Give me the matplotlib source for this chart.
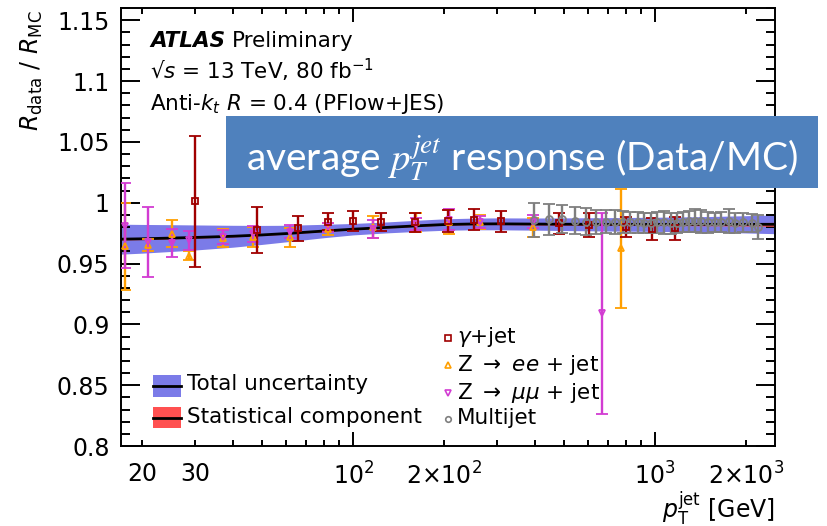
import numpy as np
import matplotlib.pyplot as plt
from matplotlib.patches import Rectangle
from matplotlib.ticker import FixedLocator, FuncFormatter

plt.rcParams['font.family'] = 'DejaVu Sans'
plt.rcParams['mathtext.fontset'] = 'dejavusans'

# combined in-situ correction: central value, total and stat-only half widths
band_pt = [17, 20, 25, 30, 40, 50, 60, 80, 100, 130, 170, 200, 250, 300,
           400, 500, 700, 1000, 1500, 2000, 2500]
band_central = [0.9700, 0.9703, 0.9709, 0.9714, 0.9724, 0.9735, 0.9746, 0.9767,
                0.9782, 0.9797, 0.9812, 0.9820, 0.9825, 0.9826, 0.9824, 0.9823,
                0.9822, 0.9822, 0.9822, 0.9822, 0.9822]
band_total = [0.0123, 0.0118, 0.0110, 0.0103, 0.0090, 0.0078, 0.0068, 0.0055,
              0.0047, 0.0045, 0.0046, 0.0047, 0.0048, 0.0049, 0.0050, 0.0052,
              0.0055, 0.0058, 0.0064, 0.0071, 0.0077]
band_stat = [0.0007, 0.0007, 0.0006, 0.0006, 0.0005, 0.0005, 0.0005, 0.0005,
             0.0005, 0.0005, 0.0005, 0.0005, 0.0006, 0.0006, 0.0007, 0.0008,
             0.0009, 0.0010, 0.0012, 0.0014, 0.0016]

# gamma+jet
gam_pt = [30.0, 47.9, 65.5, 82.8, 100.2, 123.4, 160.3, 206.3, 251.2, 309.5,
          479.8, 603.8, 800.6, 979.9, 1163]
gam_val = [1.001, 0.9775, 0.979, 0.9843, 0.9849, 0.9841, 0.984, 0.9851, 0.986,
           0.9847, 0.983, 0.9816, 0.980, 0.978, 0.979]
gam_err = [0.054, 0.0188, 0.0101, 0.0070, 0.0082, 0.0073, 0.0078, 0.0090, 0.0085,
           0.0085, 0.0088, 0.0096, 0.0080, 0.0090, 0.0095]

# Z->ee + jet
zee_pt = [17.6, 21.0, 25.2, 28.6, 37.2, 46.6, 61.6, 82.8, 116.3, 161.9, 207.0,
          263.8, 394.7, 771.0]
zee_val = [0.964, 0.965, 0.9745, 0.9565, 0.9707, 0.972, 0.9714, 0.9784, 0.9798,
           0.9837, 0.9841, 0.984, 0.9796, 0.9625]
zee_err = [0.036, 0.005, 0.0112, 0.004, 0.0074, 0.0082, 0.0075, 0.005, 0.0092,
           0.0075, 0.0099, 0.006, 0.0075, 0.049]

# Z->mumu + jet
zmm_pt = [17.6, 21.0, 25.2, 28.6, 37.2, 46.6, 61.6, 82.8, 116.3, 161.9, 207.0,
          263.8, 394.7, 667.8]
zmm_val = [0.981, 0.968, 0.967, 0.969, 0.972, 0.9744, 0.9761, 0.9798, 0.9782,
           0.9823, 0.986, 0.984, 0.9843, 0.909]
zmm_err = [0.035, 0.0287, 0.0114, 0.008, 0.0058, 0.0065, 0.0055, 0.0037, 0.0075,
           0.0048, 0.0085, 0.005, 0.0055, 0.0827]

# multijet balance
mj_pt = [397.5, 446.1, 493.4, 542.1, 592.0, 638.7, 689.0, 733.9, 781.6, 825.5,
         874.8, 919.8, 967.6, 1018, 1070, 1126, 1178, 1236, 1299, 1360, 1423,
         1492, 1573, 1656, 1750, 1840, 1960, 2088, 2195]
mj_val = [0.9855, 0.9863, 0.9864, 0.9852, 0.9844, 0.9841, 0.9843, 0.9841, 0.9841,
          0.9837, 0.9837, 0.9836, 0.9836, 0.9837, 0.9838, 0.9830, 0.9834, 0.9844,
          0.9848, 0.9853, 0.9847, 0.9840, 0.9840, 0.9843, 0.9850, 0.9836, 0.9838,
          0.9835, 0.9800]
mj_err = [0.014, 0.013, 0.0116, 0.011, 0.011, 0.0099, 0.0096, 0.0098, 0.0093,
          0.0089, 0.0089, 0.0082, 0.0082, 0.0089, 0.0096, 0.0088, 0.0085, 0.0082,
          0.0086, 0.0092, 0.0093, 0.0086, 0.0078, 0.0082, 0.0096, 0.0082, 0.0075,
          0.0073, 0.0096]

yticks = [0.8, 0.85, 0.9, 0.95, 1.0, 1.05, 1.1, 1.15]
ytick_labels = ['0.8', '0.85', '0.9', '0.95', '1', '1.05', '1.1', '1.15']
xlabels = {20: '20', 30: '30', 100: r'$10^{2}$', 200: r'$2{\times}10^{2}$',
           1000: r'$10^{3}$', 2000: r'$2{\times}10^{3}$'}

c_blue = '#7b7be8'
c_red = '#ff5050'
c_gam = '#a00000'
c_zee = '#ff9f00'
c_zmm = '#d23cd2'
c_mj = '#7f7f7f'

fig = plt.figure(figsize=(8.27, 5.26), dpi=100)
ax = fig.add_axes([0.14595, 0.15209, 0.79154, 0.83270])
ax.set_xscale('log')
ax.set_xlim(17, 2500)
ax.set_ylim(0.8, 1.16)

c = np.array(band_central)
tot = np.array(band_total)
st = np.array(band_stat)
ax.fill_between(band_pt, c - tot, c + tot, color=c_blue, lw=0, zorder=1)
ax.fill_between(band_pt, c - st, c + st, color=c_red, lw=0, zorder=2)
ax.plot(band_pt, c, color='black', lw=2, zorder=3)

series = [(zee_pt, zee_val, zee_err, c_zee, '^'),
          (zmm_pt, zmm_val, zmm_err, c_zmm, 'v'),
          (gam_pt, gam_val, gam_err, c_gam, 's'),
          (mj_pt, mj_val, mj_err, c_mj, 'o')]
for pt, val, err, col, mk in series:
    ax.errorbar(pt, val, yerr=err, fmt=mk, color=col, mfc='none', mec=col,
                ms=5, mew=1.3, elinewidth=1.7, capsize=4.5, capthick=1.7,
                zorder=4)

# axes, ROOT style ticks on all sides
ax.xaxis.set_major_locator(FixedLocator([100, 1000]))
ax.xaxis.set_minor_locator(FixedLocator([20, 30, 40, 50, 60, 70, 80, 90, 200, 300,
                                         400, 500, 600, 700, 800, 900, 2000]))
fmt = FuncFormatter(lambda v, p: xlabels.get(int(round(v)), ''))
ax.xaxis.set_major_formatter(fmt)
ax.xaxis.set_minor_formatter(fmt)
ax.set_yticks(yticks, ytick_labels)
ax.yaxis.set_minor_locator(FixedLocator(np.arange(0.80, 1.161, 0.01)))

ax.tick_params(which='both', direction='in', top=True, right=True, width=1.4,
               labelsize=17)
ax.xaxis.set_tick_params(which='major', length=10, pad=11.5)
ax.xaxis.set_tick_params(which='minor', length=4.3, pad=11.5)
ax.yaxis.set_tick_params(which='major', length=13.7, pad=8)
ax.yaxis.set_tick_params(which='minor', length=6.8)
for s in ax.spines.values():
    s.set_linewidth(1.4)

ax.text(-0.1363, 0.995, r'$R_{\mathrm{data}}$ / $R_{\mathrm{MC}}$', rotation=90,
        ha='center', va='top', fontsize=17, transform=ax.transAxes)
ax.text(1.0, -0.1625, r'$p_{\mathrm{T}}^{\mathrm{jet}}$ [GeV]', ha='right',
        va='baseline', fontsize=17, transform=ax.transAxes)

# labels
t = ax.text(0.0448, 0.9116, 'ATLAS', fontsize=15.5, fontweight='bold',
            style='italic', va='baseline', transform=ax.transAxes)
ax.annotate('Preliminary', xy=(1, 0), xycoords=t, xytext=(5, 0),
            textcoords='offset points', fontsize=15.5, va='bottom')
ax.text(0.0448, 0.838, '√$s$ = 13 TeV, 80 fb$^{-1}$', fontsize=15.5,
        va='baseline', transform=ax.transAxes)
ax.text(0.0448, 0.767, 'Anti-$k_{t}$ $R$ = 0.4 (PFlow+JES)', fontsize=15.5,
        va='baseline', transform=ax.transAxes)

# legend for the band
for y0, h, col, yb, lab in [(0.1112, 0.0509, c_blue, 0.1279, 'Total uncertainty'),
                            (0.0404, 0.0493, c_red, 0.0532, 'Statistical component')]:
    ax.add_patch(Rectangle((0.0489, y0), 0.0428, h, color=col, lw=0,
                           transform=ax.transAxes, zorder=5))
    ax.plot([0.0489, 0.0917], [y0 + h / 2] * 2, color='black', lw=2,
            transform=ax.transAxes, zorder=6)
    ax.text(0.1008, yb, lab, fontsize=15.5, va='baseline', transform=ax.transAxes)

# legend for the in-situ methods
leg = [(c_gam, 's', 0.2459, 0.2352, r'$\gamma$+jet'),
       (c_zee, '^', 0.1838, 0.1712, r'Z $\rightarrow$ $ee$ + jet'),
       (c_zmm, 'v', 0.1210, 0.1073, r'Z $\rightarrow$ $\mu\mu$ + jet'),
       (c_mj, 'o', 0.0616, 0.0502, 'Multijet')]
for col, mk, ym, yb, lab in leg:
    ax.plot([0.5005], [ym], marker=mk, ms=4, mew=1.2, mfc='none', mec=col,
            transform=ax.transAxes, zorder=6)
    ax.text(0.5138, yb, lab, fontsize=15.5, va='baseline', transform=ax.transAxes)

# title banner
fig.add_artist(Rectangle((226 / 827, 1 - 188 / 526), (818 - 226) / 827, 72 / 526,
                         color='#4f81bd', lw=0, transform=fig.transFigure,
                         zorder=5))
fig.text(522.5 / 827, 1 - 171 / 526, 'average $p_T^{jet}$ response (Data/MC)',
         color='white', fontsize=28, family='Lato', math_fontfamily='stix',
         ha='center', va='baseline', zorder=6)

fig.savefig('out.png', dpi=100)
